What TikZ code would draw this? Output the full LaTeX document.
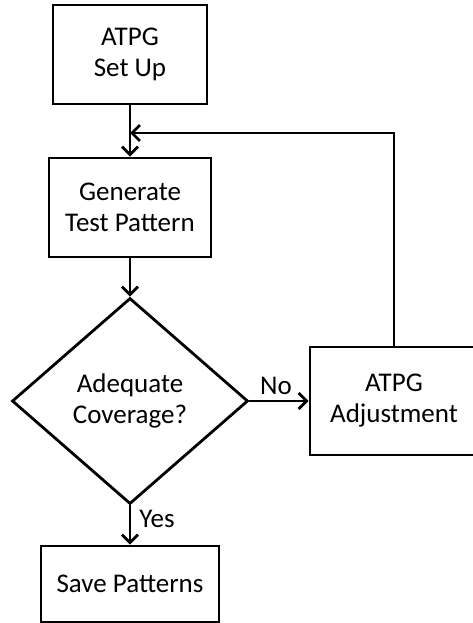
\documentclass[tikz,border=0pt]{standalone}
\usepackage{fontspec}
\setmainfont{Carlito}
\usetikzlibrary{shapes.geometric,arrows.meta}
\begin{document}
\begin{tikzpicture}[x=1pt,y=-1pt,
  every node/.style={font=\fontsize{27}{31}\selectfont},
  box/.style={draw,line width=2.8pt,inner sep=0pt,align=center},
  dec/.style={draw,diamond,line width=2.8pt,inner sep=0pt,align=center,minimum width=236pt,minimum height=206pt},
  conn/.style={line width=2.8pt,-{Straight Barb[length=8pt,width=16pt,line width=2.8pt]}},
  lbl/.style={inner sep=2pt}]
\useasboundingbox (0,0) rectangle (472,623);
\node[box,minimum width=154pt,minimum height=99pt] (setup) at (130,54.5) {ATPG\\Set Up};
\node[box,minimum width=162pt,minimum height=99pt] (gen) at (130,207.5) {Generate\\Test Pattern};
\node[dec] (cov) at (130,401) {Adequate\\Coverage?};
\node[box,minimum width=168pt,minimum height=108pt] (adj) at (394,401) {ATPG\\Adjustment};
\node[box,minimum width=178pt,minimum height=76pt] (save) at (130,584) {Save Patterns};
\coordinate (tr) at (394,133);
\coordinate (tl) at (130,133);
\draw[conn] (setup.south) -- (gen.north);
\draw[conn] (gen.south) -- (cov.north);
\draw[conn] (cov.east) -- node[lbl,above,pos=0.45,yshift=3pt] {No} (adj.west);
\draw[conn] (cov.south) -- node[lbl,right,pos=0.35,xshift=6pt] {Yes} (save.north);
\draw[conn] (adj.north) -- (tr) -- (tl);
\end{tikzpicture}
\end{document}
